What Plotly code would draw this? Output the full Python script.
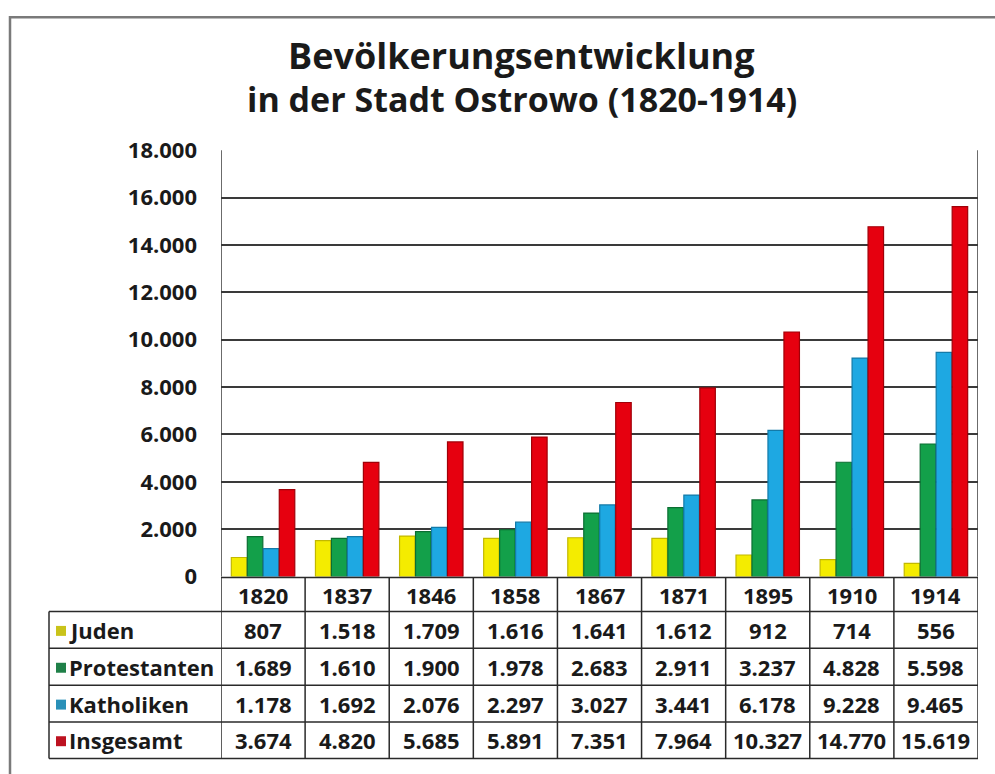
import plotly.graph_objects as go

years = ["1820", "1837", "1846", "1858", "1867", "1871", "1895", "1910", "1914"]
series_names = ["Juden", "Protestanten", "Katholiken", "Insgesamt"]
juden = [807, 1518, 1709, 1616, 1641, 1612, 912, 714, 556]
protestanten = [1689, 1610, 1900, 1978, 2683, 2911, 3237, 4828, 5598]
katholiken = [1178, 1692, 2076, 2297, 3027, 3441, 6178, 9228, 9465]
insgesamt = [3674, 4820, 5685, 5891, 7351, 7964, 10327, 14770, 15619]
y_ticks = [0, 2000, 4000, 6000, 8000, 10000, 12000, 14000, 16000, 18000]

series_values = [juden, protestanten, katholiken, insgesamt]
bar_colors = ["#f4ec00", "#13a04a", "#1ea8e2", "#e6000f"]
bar_lines = ["#c2b800", "#0b6e32", "#137aa8", "#a00008"]
key_colors = ["#c9c31a", "#1f8048", "#2a90b8", "#bd1220"]

W, H = 995, 774
# the photographed page maps figure pixel y to picture y as 13.2 + 0.965*y
V_OFF, V_SCALE = 13.2, 0.965
def py(p):
    fy = (p - V_OFF) / V_SCALE
    return 1 - fy / H
def px(p):
    return p / W

FONT = "Open Sans"
fig = go.Figure()
for name, vals, c, lc in zip(series_names, series_values, bar_colors, bar_lines):
    fig.add_trace(go.Bar(x=years, y=vals, name=name,
                         marker=dict(color=c, line=dict(color=lc, width=1.2))))

x_l, x_r = 221, 978
y_top, y_bot = 148, 576
fig.update_layout(
    width=W, height=H, autosize=False,
    margin=dict(l=0, r=0, t=0, b=0),
    paper_bgcolor="white", plot_bgcolor="white",
    separators=",.",
    showlegend=False,
    barmode="group", bargap=0.24, bargroupgap=0.03,
    xaxis=dict(type="category", domain=[px(x_l), px(x_r)], range=[-0.5, 8.5],
               showticklabels=False, showgrid=False, zeroline=False, ticks=""),
    yaxis=dict(domain=[py(y_bot), py(y_top)], range=[0, 18000], tickvals=y_ticks,
               tickformat=",d", showgrid=True, gridcolor="#3a3a3a", gridwidth=1.5,
               zeroline=False, ticks="", ticklabelstandoff=23,
               tickfont=dict(family=FONT, size=22, color="#1a1a1a", weight="bold")),
    font=dict(family=FONT),
)

shapes = []
shapes.append(dict(type="rect", xref="paper", yref="paper", x0=px(10), x1=px(1010),
                   y0=-0.1, y1=1 - 1.3 / H, line=dict(color="#7a7a7a", width=2.5)))
for xv in [-0.5, 8.5]:
    shapes.append(dict(type="line", xref="x", yref="paper", x0=xv, x1=xv,
                       y0=py(y_bot), y1=py(y_top), line=dict(color="#3a3a3a", width=1.5)))

row_lines = [577, 611, 648, 685, 722, 758.5]
tl = dict(color="#2a2a2a", width=1.5)
shapes.append(dict(type="line", xref="x", yref="paper", x0=-0.5, x1=8.5,
                   y0=py(row_lines[0]), y1=py(row_lines[0]), line=tl))
for r in row_lines[1:]:
    shapes.append(dict(type="line", xref="paper", yref="paper", x0=px(49), x1=px(x_r),
                       y0=py(r), y1=py(r), line=tl))
for i in range(len(years) + 1):
    shapes.append(dict(type="line", xref="x", yref="paper", x0=i - 0.5, x1=i - 0.5,
                       y0=py(row_lines[0]), y1=py(row_lines[-1]), line=tl))
shapes.append(dict(type="line", xref="paper", yref="paper", x0=px(49), x1=px(49),
                   y0=py(row_lines[1]), y1=py(row_lines[-1]), line=tl))

annotations = []
cell_font = dict(family=FONT, size=22, color="#1a1a1a", weight="bold")
for i, yr in enumerate(years):
    annotations.append(dict(x=i, xref="x", y=py((row_lines[0] + row_lines[1]) / 2), yref="paper",
                            xanchor="center", yanchor="middle",
                            text=yr, showarrow=False, font=cell_font))
for r, (name, vals, kc) in enumerate(zip(series_names, series_values, key_colors)):
    y0p, y1p = row_lines[r + 1], row_lines[r + 2]
    yc = (y0p + y1p) / 2
    shapes.append(dict(type="rect", xref="paper", yref="paper", x0=px(56), x1=px(66),
                       y0=py(yc + 6), y1=py(yc - 4), fillcolor=kc, line=dict(width=0)))
    annotations.append(dict(x=px(67), xref="paper", y=py(yc), yref="paper", text=name,
                            xanchor="left", yanchor="middle", showarrow=False, font=cell_font))
    for i, v in enumerate(vals):
        annotations.append(dict(x=i, xref="x", y=py(yc), yref="paper",
                                xanchor="center", yanchor="middle",
                                text=f"{v:,}".replace(",", "."), showarrow=False, font=cell_font))

annotations.append(dict(x=px(521), y=py(53), xref="paper", yref="paper", showarrow=False,
                        xanchor="center", yanchor="middle",
                        text="Bevölkerungsentwicklung",
                        font=dict(family=FONT, size=36, color="#1a1a1a", weight="bold")))
annotations.append(dict(x=px(522), y=py(97), xref="paper", yref="paper", showarrow=False,
                        xanchor="center", yanchor="middle",
                        text="in der Stadt Ostrowo (1820-1914)",
                        font=dict(family=FONT, size=34, color="#1a1a1a", weight="bold")))

fig.update_layout(shapes=shapes, annotations=annotations)
fig.write_html(
    "out.html",
    config={"displayModeBar": False},
    post_script=(
        "document.body.style.margin='0';"
        "var gd=document.getElementById('{plot_id}');"
        "gd.style.position='absolute';gd.style.left='0px';gd.style.top='0px';"
    ),
)
